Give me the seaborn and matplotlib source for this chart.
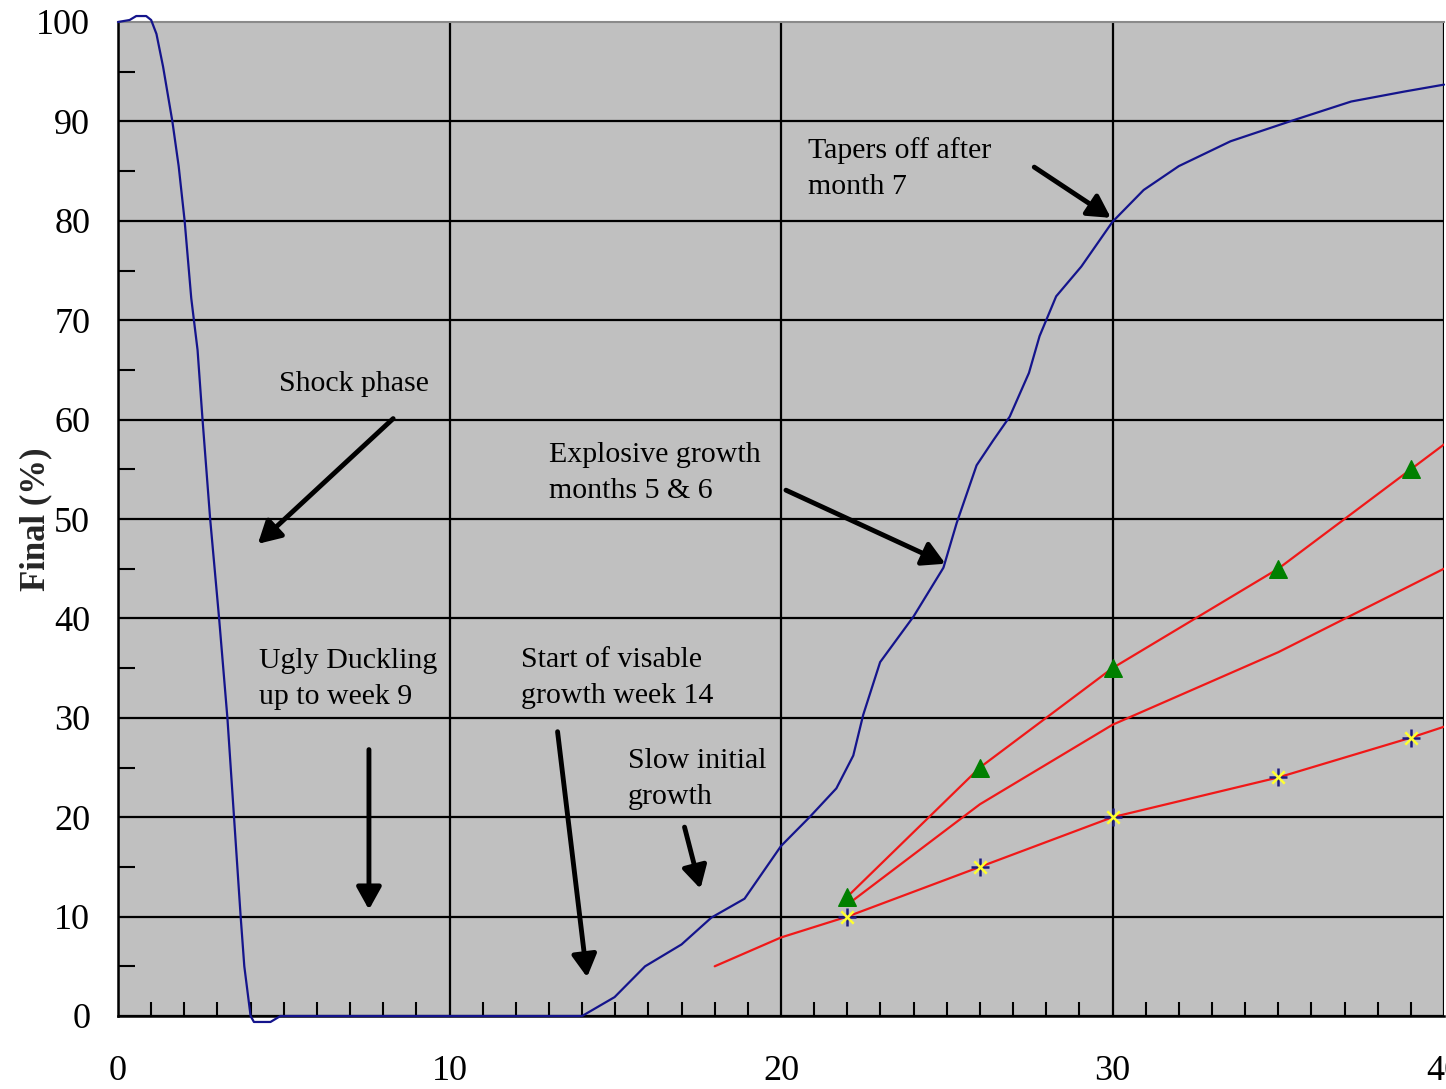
import pandas as pd
import matplotlib
matplotlib.use("Agg")
import matplotlib.pyplot as plt
import seaborn as sns

# blue curve
growth_x = [0, 0.35, 0.55, 0.85, 1.0, 1.16, 1.36, 1.64, 1.83, 2.01, 2.21, 2.4, 2.55, 2.78,
            3.05, 3.3, 3.5, 3.7, 3.81, 4.0, 4.1, 4.6, 4.9, 14.0, 14.98, 15.9, 17.0, 17.9,
            18.9, 20.0, 20.86, 21.67, 22.18, 22.48, 22.99, 24.0, 24.9, 25.3, 25.9, 26.4,
            26.9, 27.48, 27.8, 28.0, 28.3, 29.06, 30.0, 30.94, 32.0, 33.56, 35.35, 37.2,
            38.8, 40.0]
growth_y = [100, 100.2, 100.6, 100.6, 100.2, 98.8, 95.5, 90, 85.5, 80, 72.2, 67, 60, 50,
            40, 30, 20, 10, 5, 0, -0.6, -0.6, 0, 0, 1.9, 5.0, 7.2, 9.9,
            11.8, 17.1, 20.0, 22.9, 26.2, 30.3, 35.6, 40.2, 45.1, 49.6, 55.4, 57.9,
            60.3, 64.7, 68.4, 70.0, 72.4, 75.4, 79.9, 83.1, 85.5, 88.0, 90.0, 92.0,
            93.0, 93.7]

# red lines
high_x = [22, 26, 30, 35, 39, 40]
high_y = [12, 25, 35, 45, 55, 57.5]
mid_x = [22, 26, 30, 35, 40]
mid_y = [11.2, 21.3, 29.3, 36.6, 45.0]
low_x = [18, 20, 22, 26, 30, 35, 39, 40]
low_y = [5, 7.9, 10, 15, 20, 24, 28, 29.1]

# markers
tri_x = [22, 26, 30, 35, 39]
tri_y = [12, 25, 35, 45, 55]
star_x = [22, 26, 30, 35, 39]
star_y = [10, 15, 20, 24, 28]

# annotations: text, text pos, arrow start, arrow tip
notes = [
    ("Shock phase", (4.85, 63.6), (8.3, 60.1), (4.22, 47.5)),
    ("Ugly Duckling\nup to week 9", (4.25, 33.9), (7.57, 26.8), (7.57, 10.7)),
    ("Start of visable\ngrowth week 14", (12.16, 34.0), (13.26, 28.6), (14.15, 3.9)),
    ("Slow initial\ngrowth", (15.39, 23.8), (17.09, 19.0), (17.57, 12.8)),
    ("Explosive growth\nmonths 5 & 6", (13.0, 54.6), (20.15, 52.9), (24.96, 45.5)),
    ("Tapers off after\nmonth 7", (20.8, 85.3), (27.64, 85.4), (29.95, 80.3)),
]

sns.set_theme(style="white")
plt.rcParams["font.family"] = ["Liberation Serif", "DejaVu Sans"]

fig = plt.figure(figsize=(14.46, 10.89), dpi=100)
ax = fig.add_axes([118 / 1446, 1 - 1016 / 1089, (1444 - 118) / 1446, (1016 - 22) / 1089])
ax.set_facecolor("#c0c0c0")

df_g = pd.DataFrame({"x": growth_x, "y": growth_y})
sns.lineplot(data=df_g, x="x", y="y", sort=False, estimator=None, color="#14148c",
             lw=1.6, ax=ax)
ax.lines[-1].set_clip_on(False)
ax.lines[-1].set_zorder(5)

for xs, ys in [(high_x, high_y), (mid_x, mid_y), (low_x, low_y)]:
    sns.lineplot(x=xs, y=ys, sort=False, estimator=None, color="#f01818", lw=1.6, ax=ax,
                 zorder=4)

sns.scatterplot(x=tri_x, y=tri_y, marker="^", s=160, color="#008000", edgecolor="#008000",
                ax=ax, zorder=6)
sns.scatterplot(x=star_x, y=star_y, marker="+", s=160, color="#1c1c80", linewidth=1.8,
                ax=ax, zorder=6)
sns.scatterplot(x=star_x, y=star_y, marker="x", s=80, color="#ffff30", linewidth=1.8,
                ax=ax, zorder=7)

for text, tpos, start, tip in notes:
    ax.text(tpos[0], tpos[1], text, fontsize=21.5, ha="left", va="center",
            linespacing=1.5, color="black", zorder=8)
    ax.annotate("", xy=tip, xytext=start,
                arrowprops=dict(arrowstyle="-|>,head_length=0.45,head_width=0.25",
                                lw=3.5, color="black", mutation_scale=30,
                                shrinkA=0, shrinkB=0), zorder=8)

ax.set_xlim(0, 40)
ax.set_ylim(0, 100)
ax.set_xticks([0, 10, 20, 30, 40])
ax.set_xticks(range(0, 41), minor=True)
ax.set_yticks(range(0, 101, 10))
ax.set_yticks(range(5, 100, 10), minor=True)
ax.grid(True, which="major", color="black", lw=1.6)
ax.get_ygridlines()[-1].set_visible(False)
ax.set_axisbelow(True)

ax.tick_params(axis="x", which="both", direction="in", bottom=True, length=10, width=1.5,
               pad=28, labelsize=26, colors="black")
ax.tick_params(axis="y", which="both", direction="in", left=True, length=12, width=1.5,
               pad=20, labelsize=26, colors="black")
ax.tick_params(axis="x", which="major", length=0)
ax.tick_params(axis="y", which="major", length=0)

for side in ["left", "bottom"]:
    ax.spines[side].set_color("black")
    ax.spines[side].set_linewidth(1.8)
ax.spines["top"].set_color("#8a8a8a")
ax.spines["top"].set_linewidth(1.5)
ax.spines["right"].set_visible(False)

ax.set_xlabel("")
ax.set_ylabel("Final (%)", fontsize=25, fontweight="bold", va="center")
ax.yaxis.set_label_coords(-0.062, 0.5)

fig.savefig("out.png", dpi=100)
